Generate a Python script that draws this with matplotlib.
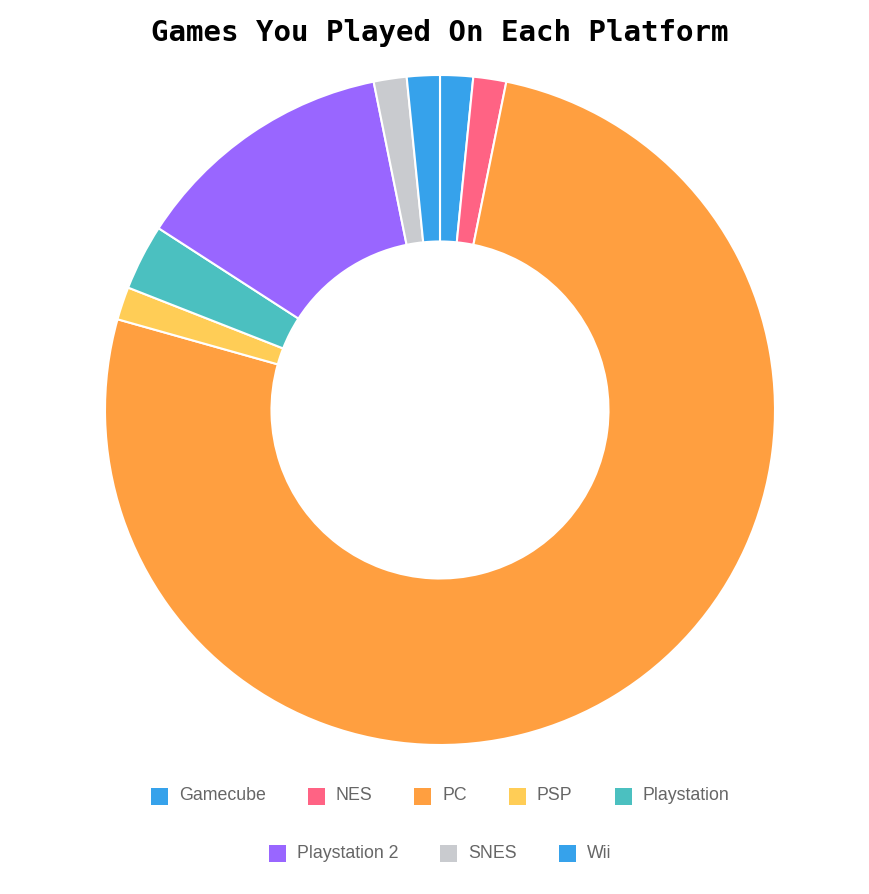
import matplotlib
matplotlib.use("Agg")
import matplotlib.pyplot as plt
from matplotlib.patches import Rectangle

# games per platform
platforms = ["Gamecube", "NES", "PC", "PSP", "Playstation", "Playstation 2", "SNES", "Wii"]
games = [1, 1, 48, 1, 2, 8, 1, 1]
colors = ["#36a2eb", "#ff6384", "#ff9f40", "#ffcd56", "#4bc0c0", "#9966ff", "#c9cbcf", "#36a2eb"]

W, H = 869, 894
fig = plt.figure(figsize=(W / 100, H / 100), dpi=100)

# donut: center (440, 410) px, radius 335 px
cx, cy, r = 440, 410, 335
ax = fig.add_axes([(cx - r) / W, (H - cy - r) / H, 2 * r / W, 2 * r / H])
ax.pie(games, colors=colors, startangle=90, counterclock=False, radius=1,
       wedgeprops=dict(width=0.497, edgecolor="white", linewidth=1.5))
ax.set_xlim(-1, 1)
ax.set_ylim(-1, 1)
ax.axis("off")

fig.text(cx / W, 1 - 33 / H, "Games You Played On Each Platform",
         family="DejaVu Sans Mono", fontweight="bold", fontsize=21.0,
         ha="center", va="center")

# legend laid out like chart.js: centered rows
rows = [[0, 1, 2, 3, 4], [5, 6, 7]]
row_y = [796, 853]
box = 17
pad = 11
spacing = 42
fsize = 12.8
fig.canvas.draw()
renderer = fig.canvas.get_renderer()
for row, y in zip(rows, row_y):
    widths = []
    for i in row:
        t = fig.text(0, 0, platforms[i], fontsize=fsize, family="Liberation Sans")
        widths.append(t.get_window_extent(renderer).width)
        t.remove()
    total = sum(box + pad + w for w in widths) + spacing * (len(row) - 1)
    x = cx - total / 2
    for i, w in zip(row, widths):
        fig.patches.append(Rectangle(((x) / W, (H - y - box / 2) / H), box / W, box / H,
                                     transform=fig.transFigure, facecolor=colors[i],
                                     edgecolor="none"))
        fig.text((x + box + pad) / W, 1 - y / H, platforms[i], fontsize=fsize,
                 family="Liberation Sans", color="#666666", ha="left", va="center")
        x += box + pad + w + spacing

fig.savefig("out.png", dpi=100)
